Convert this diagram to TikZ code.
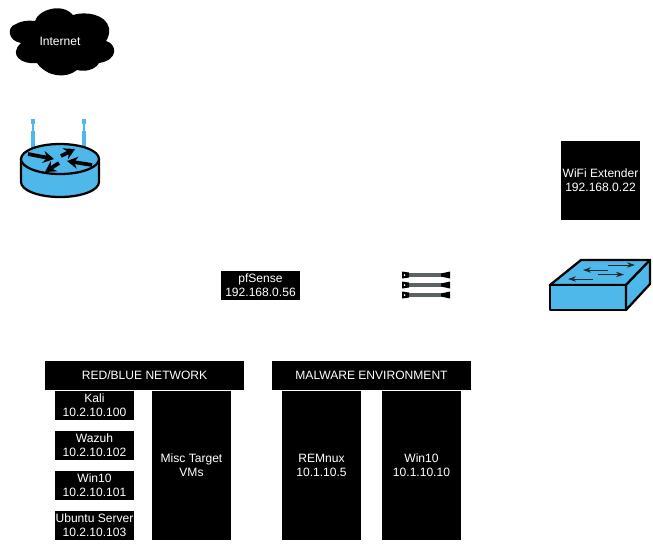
\documentclass[tikz,border=0pt]{standalone}
\usepackage{fontspec}
\setmainfont{Liberation Sans}
\usetikzlibrary{arrows.meta}
\definecolor{netblue}{HTML}{4FB8EA}
\definecolor{cablegrey}{HTML}{5A6363}
\tikzset{
  vm/.style={fill=black,text=white,inner sep=0pt,align=center,font=\fontsize{9.05}{10.6}\selectfont},
  gear/.style={draw=black,fill=netblue,line width=1.7pt,line join=round},
  flow/.style={draw=black!85,line width=0.7pt,-{Stealth[length=6pt,width=4pt]}},
  bigflow/.style={draw=black,line width=2.8pt,-{Stealth[length=8pt,width=9pt]}},
  ant/.style={fill=netblue,draw=none},
  cable/.style={draw=cablegrey,line width=2.6pt},
  plug/.style={fill=black,draw=none}
}
\newcommand{\vmbox}[6]{\node[vm,minimum width=#4*0.75pt,minimum height=#5*0.75pt] (#1) at (#2,#3) {#6};}
\begin{document}
\begin{tikzpicture}[x=0.75pt,y=-0.75pt]
\useasboundingbox (0,0) rectangle (653,551);
% cloud
\fill[black] (21,43)
  .. controls (8,41) and (6,27) .. (16,24)
  .. controls (21,21) and (28,20) .. (35,21)
  .. controls (38,10) and (62,2) .. (73,15)
  .. controls (85,11) and (106,14) .. (109,28)
  .. controls (110,33) and (108,38) .. (106,41)
  .. controls (117,44) and (119,60) .. (99,63)
  .. controls (95,70) and (85,72) .. (77,70)
  .. controls (66,79) and (47,77) .. (37,63)
  .. controls (22,65) and (8,55) .. (21,43) -- cycle;
\node[text=white,inner sep=0pt,font=\fontsize{9.05}{10.6}\selectfont] (internet) at (60,41) {Internet};
% router antennas
\fill[ant] (31,119) rectangle (35,124);
\fill[ant] (31,131) rectangle (35,150);
\fill[ant] (32,124) rectangle (34,131);
\fill[ant] (82,119) rectangle (86,124);
\fill[ant] (82,131) rectangle (86,150);
\fill[ant] (83,124) rectangle (85,131);
% router body
\path[gear] (21,159) -- (21,182) arc[start angle=180,end angle=0,x radius=39,y radius=15] -- (99,159) -- cycle;
\path[gear] (60,159) ellipse[x radius=39,y radius=15];
\draw[bigflow] (28,154) -- (54,159);
\draw[bigflow] (92,165) -- (67,161);
\draw[bigflow] (61,156) -- (75,149);
\draw[bigflow] (59,163) -- (45,172);
% pfSense and WiFi
\vmbox{pf}{260.5}{285.5}{79}{29}{pfSense\\192.168.0.56}
\vmbox{wifi}{600.5}{180.5}{79}{79}{WiFi Extender\\192.168.0.22}
% cables
\foreach \y in {275,285,295}{
  \draw[cable] (405,\y) -- (446,\y);
  \fill[plug] (402,\y-3.5) -- (409,\y-2.5) -- (409,\y+2.5) -- (402,\y+3.5) -- cycle;
  \fill[plug] (450,\y-3.5) -- (441,\y-1.5) -- (441,\y+1.5) -- (450,\y+3.5) -- cycle;
  \fill[white] (404.5,\y) circle[radius=1];
}
% switch
\path[gear] (550,285) -- (581,260) -- (650,260) -- (626,285) -- cycle;
\path[gear] (550,285) rectangle (626,310);
\path[gear] (626,285) -- (650,260) -- (650,284) -- (626,310) -- cycle;
\draw[flow] (608,265) -- (635,265);
\draw[flow] (608,270) -- (583,270);
\draw[flow] (598,274.5) -- (624,274.5);
\draw[flow] (593,279) -- (568,279);
% networks
\vmbox{redblue}{144.5}{375.5}{199}{29}{RED/BLUE NETWORK}
\vmbox{malware}{371.5}{375.5}{199}{29}{MALWARE ENVIRONMENT}
\vmbox{kali}{94.5}{405.5}{79}{29}{Kali\\10.2.10.100}
\vmbox{wazuh}{94.5}{445.5}{79}{29}{Wazuh\\10.2.10.102}
\vmbox{winr}{94.5}{485.5}{79}{29}{Win10\\10.2.10.101}
\vmbox{ubuntu}{94.5}{525.5}{79}{29}{Ubuntu Server\\10.2.10.103}
\vmbox{misc}{191.5}{465.5}{79}{149}{Misc Target\\VMs}
\vmbox{remnux}{321.5}{465.5}{79}{149}{REMnux\\10.1.10.5}
\vmbox{winm}{421.5}{465.5}{79}{149}{Win10\\10.1.10.10}
\end{tikzpicture}
\end{document}
